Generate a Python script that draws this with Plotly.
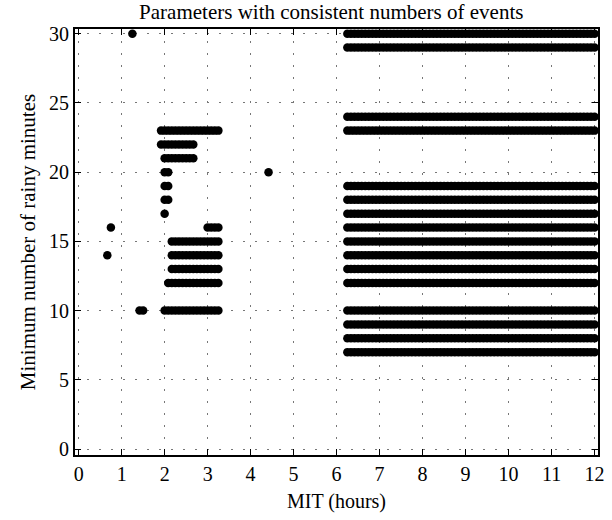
import numpy as np
import plotly.graph_objects as go

# Parameter grid step for the minimum inter-event time (minutes)
MIT_STEP_MIN = 5

# Consistent parameter runs: rainy-minute threshold, first and last MIT (minutes)
run_min_rainy = [30, 30, 29,
                 24, 23, 23,
                 22, 21, 20, 20, 19, 19, 18, 18, 17, 17,
                 16, 16, 16, 15, 15, 14, 14, 14, 13, 13, 12, 12,
                 10, 10, 10, 9, 8, 7]
run_mit_start = [75, 375, 375,
                 375, 115, 375,
                 115, 120, 120, 265, 120, 375, 120, 375, 120, 375,
                 45, 180, 375, 130, 375, 40, 130, 375, 130, 375, 125, 375,
                 85, 120, 375, 375, 375, 375]
run_mit_end = [75, 720, 720,
               720, 195, 720,
               160, 160, 125, 265, 125, 720, 125, 720, 120, 720,
               45, 195, 720, 195, 720, 40, 195, 720, 195, 720, 195, 720,
               90, 195, 720, 720, 720, 720]

xs, ys = [], []
for r, a, b in zip(run_min_rainy, run_mit_start, run_mit_end):
    for m in range(a, b + 1, MIT_STEP_MIN):
        xs.append(m / 60.0)
        ys.append(r)

x_ticks = list(range(0, 13))
y_ticks = [0, 5, 10, 15, 20, 25, 30]

FONT = "Liberation Serif, Times New Roman, serif"

fig = go.Figure()
fig.add_trace(go.Scatter(
    x=xs, y=ys, mode="markers",
    marker=dict(color="black", size=8.5, line=dict(width=0)),
    hoverinfo="skip", showlegend=False,
))

axis_common = dict(
    showline=True, linecolor="black", linewidth=1.8, mirror="ticks",
    ticks="inside", ticklen=6, tickwidth=1.2, tickcolor="black",
    showgrid=True, gridcolor="#777777", gridwidth=1, griddash="1.5px,10.5px",
    zeroline=False, tickfont=dict(family=FONT, size=20, color="black"),
)

fig.update_xaxes(
    range=[-0.085, 12.08], tickmode="array", tickvals=x_ticks,
    ticktext=[str(v) for v in x_ticks],
    title=dict(text="MIT (hours)", font=dict(family=FONT, size=20, color="black"), standoff=10),
    **axis_common,
)
fig.update_yaxes(
    range=[-0.43, 30.34], tickmode="array", tickvals=y_ticks,
    ticktext=[str(v) for v in y_ticks],
    title=dict(text="Minimum number of rainy minutes", font=dict(family=FONT, size=21, color="black"), standoff=8),
    **axis_common,
)

fig.update_layout(
    width=612, height=520,
    margin=dict(l=75, r=7, t=29, b=65),
    paper_bgcolor="white", plot_bgcolor="white",
    title=dict(text="Parameters with consistent numbers of events",
               font=dict(family=FONT, size=21, color="black"),
               x=0.49, xref="paper", xanchor="center",
               y=1 - 12 / 520, yref="container", yanchor="middle"),
)

fig.write_html("out.html")
